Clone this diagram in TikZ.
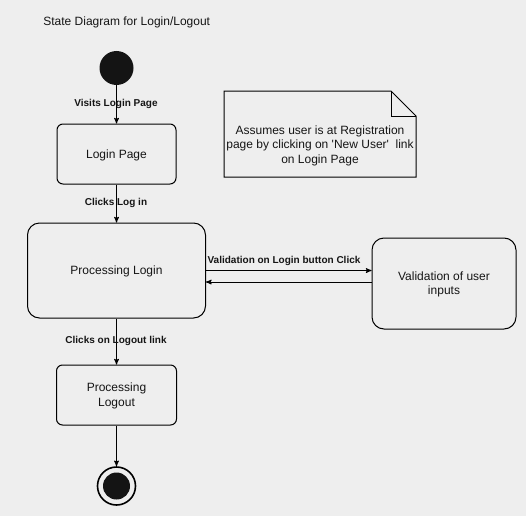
\documentclass[tikz,border=0pt]{standalone}
\usepackage{fontspec}
\setmainfont{Liberation Sans}
\usetikzlibrary{arrows,positioning}
\definecolor{bgcol}{HTML}{EEEEEE}
\definecolor{txtcol}{HTML}{151515}
\tikzset{font=\fontsize{12}{14.5}\selectfont}
\tikzset{every node/.append style={transform shape=false, text=txtcol}}
\tikzset{state/.style={draw, line width=1pt, rounded corners=6pt, align=center, inner sep=0pt,
    text depth=0.5pt}}
\tikzset{biground/.style={state, rounded corners=12pt}}
\tikzset{trans/.style={font=\fontsize{10}{12}\selectfont\bfseries}}

\begin{document}
\begin{tikzpicture}[x=1pt, y=-1pt, >=stealth', line width=1pt]
  \fill[bgcol] (0,0) rectangle (526,516);
  \useasboundingbox (0,0) rectangle (526,516);

  \node[anchor=west] (title) at (39.5,22) {State Diagram for Login/Logout};

  % states
  \node[circle, fill=black!92, minimum size=34pt, inner sep=0pt] (start) at (116.5,68) {};
  \node[state, minimum width=119pt, minimum height=60pt] (login) at (116.5,154) {Login Page};
  \node[biground, minimum width=178pt, minimum height=95pt] (proc) at (116.5,270.5) {Processing Login};
  \node[biground, minimum width=144pt, minimum height=91pt] (valid) at (444,283.5) {Validation of user\\inputs};
  \node[state, minimum width=120pt, minimum height=60pt] (logout) at (116.5,395) {Processing\\Logout};
  \node[circle, draw, line width=1.6pt, minimum size=38pt, inner sep=0pt] (finish) at (116.5,486) {};
  \fill[black!92] (finish.center) circle (13.5);

  % note
  \draw[line width=1pt] (224,91) -- (391,91) -- (416,116) -- (416,177) -- (224,177) -- cycle;
  \draw[line width=1pt] (391,91) -- (391,116) -- (416,116);
  \node[align=center] (note) at (320,145.5) {Assumes user is at Registration\\page by clicking on \textquotesingle New User\textquotesingle\ \ link\\on Login Page};

  % transitions
  \draw[->] (start) -- (login);
  \draw[->] (login) -- (proc);
  \draw[->] (proc.east) -- (valid.west |- proc.east);
  \coordinate (back) at ([yshift=-11.5pt]proc.east);
  \draw[->] (valid.west |- back) -- (back);
  \draw[->] (proc) -- (logout);
  \draw[->] (logout) -- (finish);

  \node[trans] (visits) at (116,103.5) {Visits Login Page};
  \node[trans] (clicks) at (116,202.5) {Clicks Log in};
  \node[trans] (check) at (284,260.5) {Validation on Login button Click};
  \node[trans] (out) at (116,340.5) {Clicks on Logout link};
\end{tikzpicture}
\end{document}
